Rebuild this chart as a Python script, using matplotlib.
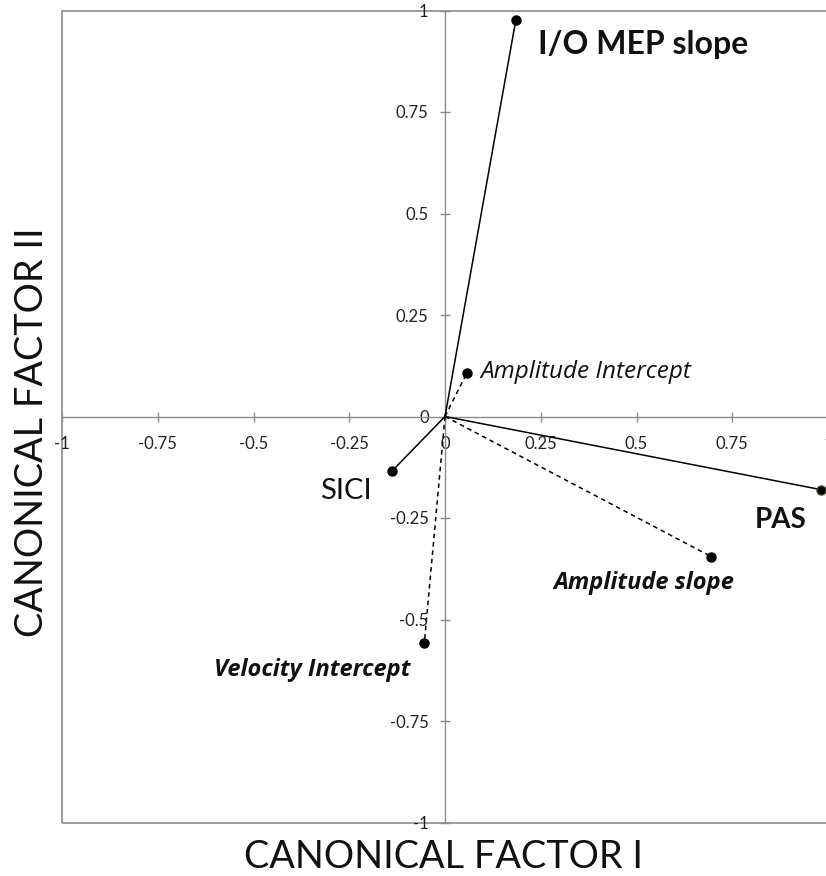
import matplotlib.pyplot as plt
from matplotlib.patches import Rectangle

plt.rcParams['font.family'] = ['Lato', 'DejaVu Sans']

# canonical loadings
names = ['I/O MEP slope', 'Amplitude Intercept', 'PAS', 'Amplitude slope',
         'SICI', 'Velocity Intercept']
factor1 = [0.185, 0.057, 0.981, 0.695, -0.138, -0.054]
factor2 = [0.977, 0.107, -0.180, -0.345, -0.134, -0.558]

ticks = [-1, -0.75, -0.5, -0.25, 0, 0.25, 0.5, 0.75, 1]
tick_labels = ['-1', '-0.75', '-0.5', '-0.25', '0', '0.25', '0.5', '0.75', '1']

# label styling / placement (offset in pixels from the point)
dashes = ['-', '--', '-', '--', '-', '--']
label_style = [
    dict(fontsize=23, weight='bold', style='normal', ha='left', off=(22, -25), fam='Lato'),
    dict(fontsize=17.5, weight='normal', style='italic', ha='left', off=(14, 1), fam='Open Sans'),
    dict(fontsize=20, weight='bold', style='normal', ha='left', off=(-66, -30), fam='Lato'),
    dict(fontsize=17, weight='bold', style='italic', ha='left', off=(-158, -26), fam='Open Sans'),
    dict(fontsize=21, weight='normal', style='normal', ha='right', off=(-21, -20), fam='Lato'),
    dict(fontsize=17, weight='bold', style='italic', ha='right', off=(-14, -27), fam='Open Sans'),
]

grey = '#8c8c8c'

fig = plt.figure(figsize=(8.26, 8.76), dpi=100)
ax = fig.add_axes([62 / 826, 53.5 / 876, 766 / 826, 812 / 876])
ax.set_xlim(-1, 1)
ax.set_ylim(-1, 1)

for s in ['top', 'right']:
    ax.spines[s].set_visible(False)
for s in ['left', 'bottom']:
    ax.spines[s].set_position('zero')
    ax.spines[s].set_color(grey)
    ax.spines[s].set_linewidth(1)
ax.add_patch(Rectangle((0, 0), 1, 1, transform=ax.transAxes, fill=False,
                       edgecolor=grey, linewidth=1.2, clip_on=False, zorder=0))

ax.set_xticks(ticks)
ax.set_xticklabels(tick_labels)
ax.set_yticks(ticks)
ax.set_yticklabels(tick_labels)
ax.tick_params(axis='both', direction='inout', length=7.5, width=1, color=grey,
               labelsize=12, labelcolor='#222222')
ax.tick_params(axis='x', pad=10)
ax.tick_params(axis='y', pad=8)

for i in range(len(names)):
    ax.plot([0, factor1[i]], [0, factor2[i]], color='black', lw=1.1,
            linestyle=dashes[i], dashes=(3, 2.5) if dashes[i] == '--' else (None, None),
            zorder=3)
    ax.plot(factor1[i], factor2[i], 'o', color='black', markersize=6.5, zorder=4,
            markeredgecolor='#3a4a20' if names[i] == 'PAS' else 'black')
    st = label_style[i]
    ax.annotate(names[i], (factor1[i], factor2[i]), xytext=st['off'],
                textcoords='offset pixels', ha=st['ha'], va='center',
                fontsize=st['fontsize'], fontweight=st['weight'],
                fontstyle=st['style'], family=[st['fam'], 'DejaVu Sans'],
                color='#111111')

fig.text(444 / 826, 1 - 857 / 876, 'CANONICAL FACTOR I', ha='center', va='center',
         fontsize=27.3, color='#111111')
fig.text(32 / 826, 1 - 432 / 876, 'CANONICAL FACTOR II', ha='center', va='center',
         rotation=90, fontsize=27.3, color='#111111')

fig.savefig('out.png', dpi=100)
